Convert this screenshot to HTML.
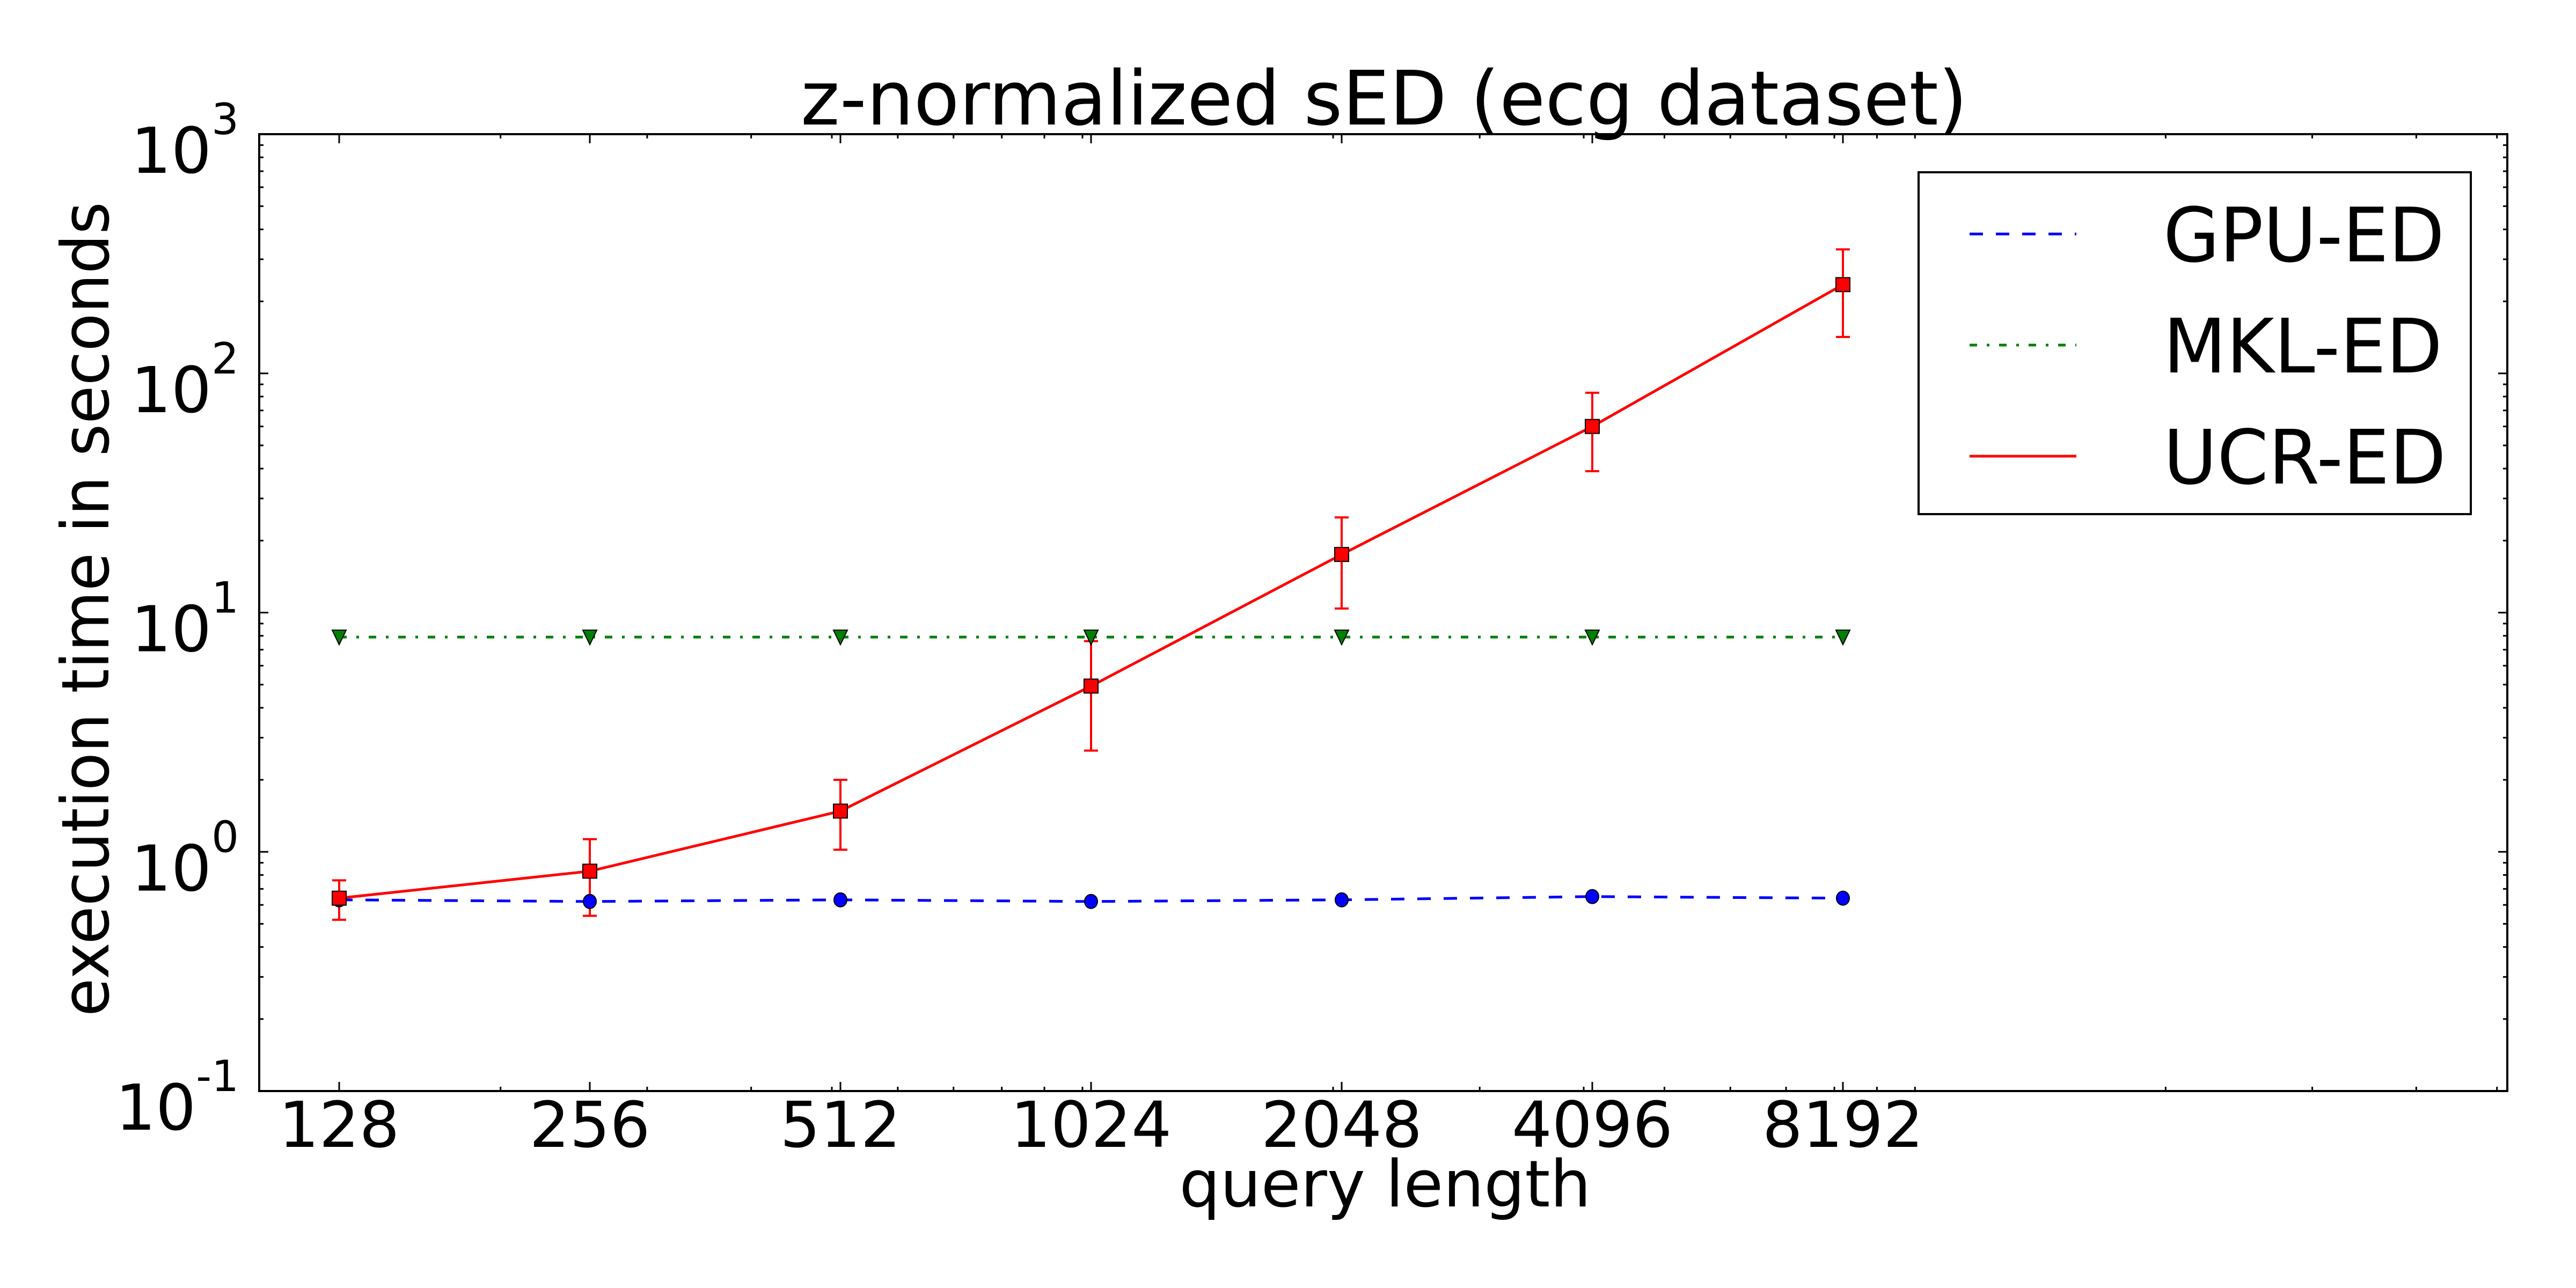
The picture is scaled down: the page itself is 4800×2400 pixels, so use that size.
<!DOCTYPE html>
<html><head><meta charset="utf-8"><style>
html,body{margin:0;padding:0;background:#fff;}
svg{display:block;font-family:"DejaVu Sans","Liberation Sans",sans-serif;}
</style></head><body>
<svg id="chart" width="4800" height="2400" viewBox="0 0 4800 2400" xmlns="http://www.w3.org/2000/svg">
<rect width="4800" height="2400" fill="#fff"/>
<text x="2579" y="232" font-size="140" text-anchor="middle" textLength="2174" lengthAdjust="spacingAndGlyphs">z-normalized sED (ecg dataset)</text>
<text x="2581" y="2248" font-size="120" text-anchor="middle">query length</text>
<text transform="translate(202,1135) rotate(-90)" font-size="122" text-anchor="middle" textLength="1518" lengthAdjust="spacingAndGlyphs">execution time in seconds</text>
<g id="grid-ticks"></g>
<g id="series"></g>
<rect x="483" y="250" width="4189" height="1783" fill="none" stroke="#000" stroke-width="4"/>
<g>
<rect x="3575" y="321" width="1029" height="637" fill="#fff" stroke="#000" stroke-width="4"/>
<line x1="3670" y1="436" x2="3869" y2="436" stroke="#0000ff" stroke-width="5" stroke-dasharray="25 24"/>
<text x="4031" y="487" font-size="140" textLength="524" lengthAdjust="spacingAndGlyphs">GPU-ED</text>
<line x1="3670" y1="643" x2="3869" y2="643" stroke="#008000" stroke-width="5" stroke-dasharray="14 18 5 18"/>
<text x="4031" y="694" font-size="140" textLength="520" lengthAdjust="spacingAndGlyphs">MKL-ED</text>
<line x1="3670" y1="850" x2="3869" y2="850" stroke="#ff0000" stroke-width="5"/>
<text x="4031" y="901" font-size="140" textLength="527" lengthAdjust="spacingAndGlyphs">UCR-ED</text>
</g>
</svg>
<script>
const categories = [128, 256, 512, 1024, 2048, 4096, 8192];
const gpuValues = [0.63, 0.62, 0.63, 0.62, 0.63, 0.65, 0.64];
const mklValues = [7.9, 7.9, 7.9, 7.9, 7.9, 7.9, 7.9];
const ucrValues = [0.64, 0.83, 1.48, 4.93, 17.5, 60, 235];
const ucrLow = [0.52, 0.54, 1.02, 2.65, 10.4, 39, 142];
const ucrHigh = [0.76, 1.13, 2.0, 7.6, 25, 83, 330];
const yTickExps = [-1, 0, 1, 2, 3];
const xTickLabels = ["128", "256", "512", "1024", "2048", "4096", "8192"];

const NS = "http://www.w3.org/2000/svg";
const L = 483, R = 4672, T = 250, B = 2033;
function xs(v){ return 632 + Math.log2(v/128)*467; }
function ys(v){ return B - (Math.log10(v) + 1) * (B - T) / 4; }
function mk(tag, attrs, parent){
  const e = document.createElementNS(NS, tag);
  for (const k in attrs) e.setAttribute(k, attrs[k]);
  parent.appendChild(e); return e;
}
const tg = document.getElementById('grid-ticks');
const sg = document.getElementById('series');

// y ticks
for (let e = -1; e <= 3; e++) {
  for (let m = 1; m <= 9; m++) {
    if (e === 3 && m > 1) break;
    const y = ys(m * Math.pow(10, e));
    const len = m === 1 ? 17 : 8;
    const a = mk('line', {x1:L, y1:y, x2:L+len, y2:y, stroke:'#000', 'stroke-width':3}, tg);
    
    
    const b = mk('line', {x1:R, y1:y, x2:R-len, y2:y, stroke:'#000', 'stroke-width':3}, tg);
    
    
  }
}
yTickExps.forEach(e => {
  const y = ys(Math.pow(10, e));
  const t = mk('text', {x:445, y:y+72, 'font-size':118, 'text-anchor':'end'}, tg);
  
  
  const t1 = mk('tspan', {}, t); t1.textContent = '10';
  const t2 = mk('tspan', {dy:-72, 'font-size':80}, t); t2.textContent = String(e);
});
// x minor ticks (log10 multiples)
for (let e = 2; e <= 4; e++) {
  for (let m = 1; m <= 9; m++) {
    const v = m * Math.pow(10, e);
    const x = xs(v);
    if (x < L || x > R) continue;
    const a = mk('line', {x1:x, y1:B, x2:x, y2:B-8, stroke:'#000', 'stroke-width':3}, tg);
    
    
    const b = mk('line', {x1:x, y1:T, x2:x, y2:T+8, stroke:'#000', 'stroke-width':3}, tg);
    
    
  }
}
categories.forEach((c, i) => {
  const x = xs(c);
  const a = mk('line', {x1:x, y1:B, x2:x, y2:B-17, stroke:'#000', 'stroke-width':3}, tg);
  
  
  const b = mk('line', {x1:x, y1:T, x2:x, y2:T+17, stroke:'#000', 'stroke-width':3}, tg);
  
  
  const t = mk('text', {x:x, y:2137, 'font-size':118, 'text-anchor':'middle'}, tg);
  
  
  t.textContent = xTickLabels[i];
});

function pts(vals){ return vals.map((v,i)=>xs(categories[i])+','+ys(v)).join(' '); }
// GPU
const gl = mk('polyline', {points:pts(gpuValues), fill:'none', stroke:'#0000ff', 'stroke-width':5, 'stroke-dasharray':'25 24'}, sg);


// MKL
const ml = mk('polyline', {points:pts(mklValues), fill:'none', stroke:'#008000', 'stroke-width':5, 'stroke-dasharray':'14 18 5 18'}, sg);


// UCR error bars
categories.forEach((c, i) => {
  const x = xs(c), y1 = ys(ucrLow[i]), y2 = ys(ucrHigh[i]);
  const v = mk('line', {x1:x, y1:y1, x2:x, y2:y2, stroke:'#ff0000', 'stroke-width':4}, sg);
  
  
  [y1, y2].forEach(yy => {
    const cp = mk('line', {x1:x-13, y1:yy, x2:x+13, y2:yy, stroke:'#ff0000', 'stroke-width':4}, sg);
    
    
  });
});
const ul = mk('polyline', {points:pts(ucrValues), fill:'none', stroke:'#ff0000', 'stroke-width':5}, sg);


// markers
categories.forEach((c, i) => {
  const x = xs(c);
  const gm = mk('ellipse', {cx:x, cy:ys(gpuValues[i]), rx:12, ry:13, fill:'#0000ff', stroke:'#000', 'stroke-width':2}, sg);
  
  
  const my = ys(mklValues[i]);
  const mm = mk('polygon', {points:(x-13)+','+(my-13)+' '+(x+13)+','+(my-13)+' '+x+','+(my+14), fill:'#008000', stroke:'#000', 'stroke-width':2}, sg);
  
  
  const uy = ys(ucrValues[i]);
  const um = mk('rect', {x:x-13, y:uy-13, width:26, height:26, fill:'#ff0000', stroke:'#000', 'stroke-width':2}, sg);
  
  
});
</script>
</body></html>
